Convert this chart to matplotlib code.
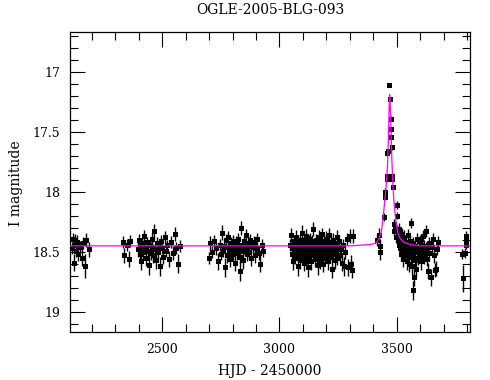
import matplotlib
matplotlib.use("Agg")
import matplotlib.pyplot as plt
from matplotlib.ticker import MultipleLocator

plt.rcParams['font.family'] = ['DejaVu Serif']

# season 1
t1 = [2114, 2118, 2121, 2124, 2128, 2133, 2137, 2142, 2150, 2156, 2163, 2170, 2176, 2186]
m1 = [18.47, 18.39, 18.44, 18.59, 18.40, 18.49, 18.42, 18.52, 18.46, 18.55, 18.43, 18.62, 18.40, 18.48]
e1 = [0.05, 0.05, 0.06, 0.07, 0.05, 0.05, 0.06, 0.06, 0.05, 0.07, 0.05, 0.10, 0.06, 0.06]

# season 2
t2 = [2331, 2336, 2349, 2356, 2362, 2396, 2400, 2404, 2408, 2411,
      2415, 2419, 2423, 2427, 2430, 2434, 2438, 2442, 2446, 2450,
      2454, 2458, 2462, 2466, 2470, 2474, 2478, 2482, 2486, 2490,
      2494, 2499, 2504, 2510, 2516, 2522, 2530, 2538, 2546, 2553,
      2560, 2568, 2574]
m2 = [18.42, 18.53, 18.44, 18.56, 18.41, 18.48, 18.40, 18.52, 18.45, 18.58,
      18.43, 18.50, 18.37, 18.47, 18.55, 18.42, 18.49, 18.61, 18.44, 18.51,
      18.39, 18.46, 18.53, 18.33, 18.48, 18.57, 18.43, 18.50, 18.45, 18.62,
      18.41, 18.47, 18.54, 18.38, 18.49, 18.44, 18.56, 18.42, 18.51, 18.35,
      18.47, 18.60, 18.45]
e2 = [0.05, 0.06, 0.05, 0.07, 0.05, 0.06, 0.05, 0.06, 0.04, 0.07,
      0.05, 0.06, 0.05, 0.05, 0.07, 0.04, 0.05, 0.08, 0.05, 0.06,
      0.05, 0.05, 0.06, 0.06, 0.05, 0.07, 0.05, 0.05, 0.04, 0.08,
      0.05, 0.05, 0.06, 0.05, 0.05, 0.04, 0.07, 0.05, 0.06, 0.06,
      0.05, 0.08, 0.05]

# season 3
t3 = [2698, 2705, 2712, 2722, 2730, 2738, 2745, 2750, 2755, 2759,
      2763, 2767, 2771, 2775, 2779, 2782, 2786, 2789, 2793, 2796,
      2800, 2803, 2806, 2810, 2813, 2816, 2820, 2823, 2826, 2830,
      2833, 2836, 2840, 2843, 2846, 2850, 2853, 2857, 2860, 2864,
      2868, 2872, 2876, 2880, 2885, 2890, 2895, 2900, 2906, 2912,
      2918, 2924, 2931]
m3 = [18.55, 18.43, 18.50, 18.41, 18.47, 18.58, 18.44, 18.52, 18.34, 18.49,
      18.45, 18.63, 18.40, 18.53, 18.46, 18.38, 18.50, 18.56, 18.43, 18.48,
      18.41, 18.52, 18.45, 18.59, 18.42, 18.47, 18.51, 18.39, 18.46, 18.54,
      18.66, 18.30, 18.44, 18.49, 18.57, 18.41, 18.48, 18.36, 18.52, 18.45,
      18.43, 18.50, 18.40, 18.55, 18.46, 18.42, 18.53, 18.47, 18.39, 18.51,
      18.60, 18.44, 18.49]
e3 = [0.05, 0.06, 0.05, 0.05, 0.06, 0.07, 0.05, 0.05, 0.06, 0.05,
      0.05, 0.08, 0.05, 0.06, 0.05, 0.05, 0.06, 0.07, 0.05, 0.05,
      0.05, 0.06, 0.05, 0.07, 0.05, 0.05, 0.06, 0.05, 0.05, 0.06,
      0.08, 0.06, 0.05, 0.05, 0.07, 0.05, 0.05, 0.05, 0.06, 0.05,
      0.05, 0.06, 0.05, 0.07, 0.05, 0.05, 0.06, 0.05, 0.05, 0.06,
      0.07, 0.05, 0.05]

# season 4
t4 = [3046, 3050, 3053, 3056, 3058, 3061, 3063, 3066, 3068, 3070,
      3072, 3075, 3077, 3079, 3081, 3084, 3086, 3088, 3090, 3092,
      3095, 3097, 3099, 3101, 3103, 3106, 3108, 3110, 3112, 3114,
      3117, 3119, 3121, 3123, 3125, 3128, 3130, 3132, 3134, 3136,
      3139, 3141, 3143, 3145, 3147, 3150, 3152, 3154, 3156, 3158,
      3161, 3163, 3165, 3167, 3169, 3172, 3174, 3176, 3178, 3180,
      3183, 3185, 3187, 3189, 3191, 3194, 3196, 3198, 3200, 3202,
      3205, 3207, 3209, 3211, 3213, 3216, 3218, 3220, 3222, 3224,
      3227, 3229, 3232, 3235, 3238, 3241, 3244, 3247, 3250, 3254,
      3258, 3262, 3266, 3270, 3275, 3280, 3286, 3292, 3299, 3306,
      3311, 3313]
m4 = [18.44, 18.36, 18.52, 18.47, 18.58, 18.41, 18.49, 18.55, 18.43, 18.38,
      18.51, 18.46, 18.62, 18.42, 18.48, 18.53, 18.40, 18.57, 18.45, 18.50,
      18.34, 18.47, 18.54, 18.43, 18.59, 18.46, 18.41, 18.52, 18.48, 18.37,
      18.55, 18.44, 18.50, 18.63, 18.42, 18.47, 18.39, 18.53, 18.45, 18.58,
      18.41, 18.49, 18.31, 18.46, 18.52, 18.44, 18.56, 18.40, 18.48, 18.54,
      18.43, 18.61, 18.47, 18.38, 18.51, 18.45, 18.57, 18.42, 18.49, 18.35,
      18.53, 18.46, 18.60, 18.41, 18.48, 18.55, 18.44, 18.39, 18.52, 18.47,
      18.58, 18.43, 18.50, 18.36, 18.46, 18.54, 18.42, 18.49, 18.64, 18.45,
      18.40, 18.52, 18.47, 18.57, 18.43, 18.50, 18.38, 18.55, 18.46, 18.41,
      18.53, 18.48, 18.59, 18.44, 18.62, 18.50, 18.39, 18.63, 18.37, 18.60,
      18.65, 18.37]
e4 = [0.05, 0.06, 0.05, 0.05, 0.07, 0.05, 0.06, 0.05, 0.05, 0.06,
      0.05, 0.05, 0.08, 0.05, 0.06, 0.05, 0.05, 0.07, 0.05, 0.05,
      0.06, 0.05, 0.05, 0.05, 0.07, 0.05, 0.06, 0.05, 0.05, 0.06,
      0.05, 0.05, 0.05, 0.08, 0.06, 0.05, 0.05, 0.06, 0.05, 0.07,
      0.05, 0.06, 0.06, 0.05, 0.05, 0.05, 0.07, 0.05, 0.05, 0.06,
      0.05, 0.08, 0.05, 0.06, 0.05, 0.05, 0.07, 0.05, 0.06, 0.05,
      0.05, 0.05, 0.07, 0.05, 0.05, 0.06, 0.05, 0.06, 0.05, 0.05,
      0.07, 0.05, 0.05, 0.06, 0.05, 0.05, 0.06, 0.05, 0.08, 0.05,
      0.06, 0.05, 0.05, 0.07, 0.05, 0.05, 0.06, 0.06, 0.05, 0.05,
      0.06, 0.05, 0.07, 0.05, 0.08, 0.06, 0.05, 0.07, 0.06, 0.07,
      0.07, 0.06]

# event season: rise, peak, fall
t_ev = [3418, 3424, 3428, 3431, 3446, 3449, 3450, 3457, 3458, 3460,
        3461, 3466, 3468, 3471, 3476, 3477, 3478, 3479, 3481, 3482,
        3486, 3488, 3490, 3500, 3501]
m_ev = [18.40, 18.36, 18.45, 18.50, 18.21, 18.04, 18.00, 17.89, 17.87, 17.68,
        17.66, 17.11, 17.11, 17.23, 17.48, 17.39, 17.54, 17.63, 17.89, 17.87,
        17.96, 18.33, 18.27, 18.11, 18.20]
e_ev = [0.05, 0.06, 0.06, 0.07, 0.03, 0.03, 0.03, 0.02, 0.02, 0.02,
        0.02, 0.01, 0.01, 0.01, 0.02, 0.02, 0.02, 0.02, 0.02, 0.02,
        0.02, 0.04, 0.04, 0.03, 0.03]

# event season: tail
t_tail = [3495, 3497, 3503, 3505, 3507, 3509, 3511, 3513, 3515, 3517,
          3519, 3521, 3523, 3525, 3527, 3529, 3531, 3533, 3535, 3537,
          3539, 3541, 3543, 3545, 3547, 3549, 3551, 3553, 3555, 3557,
          3560, 3562, 3564, 3566, 3568, 3571, 3574, 3576, 3578, 3580,
          3583, 3585, 3588, 3591, 3594, 3597, 3600, 3603, 3606, 3609,
          3612, 3615, 3618, 3621, 3624, 3627, 3630, 3633, 3636, 3640,
          3645, 3650, 3654, 3658, 3662, 3667, 3672, 3677]
m_tail = [18.30, 18.38, 18.33, 18.40, 18.36, 18.44, 18.31, 18.47, 18.39, 18.52,
          18.42, 18.35, 18.49, 18.44, 18.56, 18.40, 18.47, 18.38, 18.53, 18.45,
          18.50, 18.42, 18.58, 18.46, 18.36, 18.51, 18.44, 18.60, 18.48, 18.41,
          18.26, 18.54, 18.47, 18.62, 18.43, 18.82, 18.71, 18.50, 18.57, 18.45,
          18.64, 18.48, 18.39, 18.55, 18.46, 18.52, 18.41, 18.58, 18.44, 18.49,
          18.37, 18.54, 18.45, 18.50, 18.33, 18.47, 18.56, 18.66, 18.43, 18.51,
          18.71, 18.46, 18.39, 18.53, 18.65, 18.64, 18.48, 18.42]
e_tail = [0.04, 0.05, 0.05, 0.05, 0.06, 0.05, 0.05, 0.06, 0.05, 0.06,
          0.05, 0.05, 0.06, 0.05, 0.07, 0.05, 0.05, 0.06, 0.05, 0.06,
          0.05, 0.05, 0.07, 0.05, 0.05, 0.06, 0.05, 0.07, 0.05, 0.05,
          0.04, 0.06, 0.05, 0.07, 0.05, 0.08, 0.07, 0.05, 0.06, 0.05,
          0.07, 0.05, 0.05, 0.06, 0.05, 0.06, 0.05, 0.07, 0.05, 0.05,
          0.05, 0.06, 0.05, 0.06, 0.05, 0.05, 0.06, 0.07, 0.05, 0.06,
          0.07, 0.05, 0.05, 0.06, 0.06, 0.06, 0.05, 0.05]

# last season
t5 = [3780, 3783, 3791, 3794, 3796, 3798]
m5 = [18.52, 18.72, 18.51, 18.44, 18.37, 18.40]
e5 = [0.04, 0.11, 0.04, 0.04, 0.04, 0.05]

# model curve
model_t = [2106, 3300, 3380, 3410, 3425, 3435, 3443, 3450, 3456, 3461,
           3465, 3468, 3470, 3472, 3475, 3479, 3484, 3490, 3497, 3505,
           3515, 3530, 3560, 3600, 3813]
model_m = [18.45, 18.45, 18.44, 18.43, 18.39, 18.33, 18.20, 18.06, 17.93, 17.78,
           17.55, 17.30, 17.19, 17.24, 17.42, 17.70, 17.95, 18.12, 18.25, 18.34,
           18.39, 18.42, 18.44, 18.45, 18.45]

fig = plt.figure(figsize=(4.9, 3.8), dpi=100)
ax = fig.add_axes([70/490, 1-332/380, 400/490, 300/380])

seasons = [(t1, m1, e1), (t2, m2, e2), (t3, m3, e3), (t4, m4, e4),
           (t_ev, m_ev, e_ev), (t_tail, m_tail, e_tail), (t5, m5, e5)]
for t, m, e in seasons:
    ax.errorbar(t, m, yerr=e, fmt='s', color='black', ms=3.6, mew=0,
                elinewidth=1.0, capsize=2.8, capthick=1.0, zorder=2)

ax.plot(model_t, model_m, color='#ff00ff', lw=0.9, zorder=3)

ax.set_xlim(2106, 3813)
ax.set_ylim(19.167, 16.67)
ax.xaxis.set_major_locator(MultipleLocator(500))
ax.xaxis.set_minor_locator(MultipleLocator(100))
ax.yaxis.set_major_locator(MultipleLocator(0.5))
ax.yaxis.set_minor_locator(MultipleLocator(0.1))
ax.set_yticks([17, 17.5, 18, 18.5, 19])
ax.set_yticklabels(['17', '17.5', '18', '18.5', '19'])
ax.tick_params(which='both', direction='in', top=True, right=True,
               width=0.8, labelsize=9, color='black')
ax.tick_params(which='major', length=11)
ax.tick_params(which='minor', length=5.8)
ax.tick_params(axis='x', pad=8)
ax.tick_params(axis='y', pad=7)
for s in ax.spines.values():
    s.set_linewidth(0.9)

fig.text(270/490, 1-10/380, 'OGLE-2005-BLG-093', ha='center', va='center', fontsize=10)
fig.text(270/490, 1-371/380, 'HJD - 2450000', ha='center', va='center', fontsize=10)
fig.text(16/490, 1-183/380, 'I magnitude', ha='center', va='center', rotation=90, fontsize=10)

fig.savefig('out.png', dpi=100)
